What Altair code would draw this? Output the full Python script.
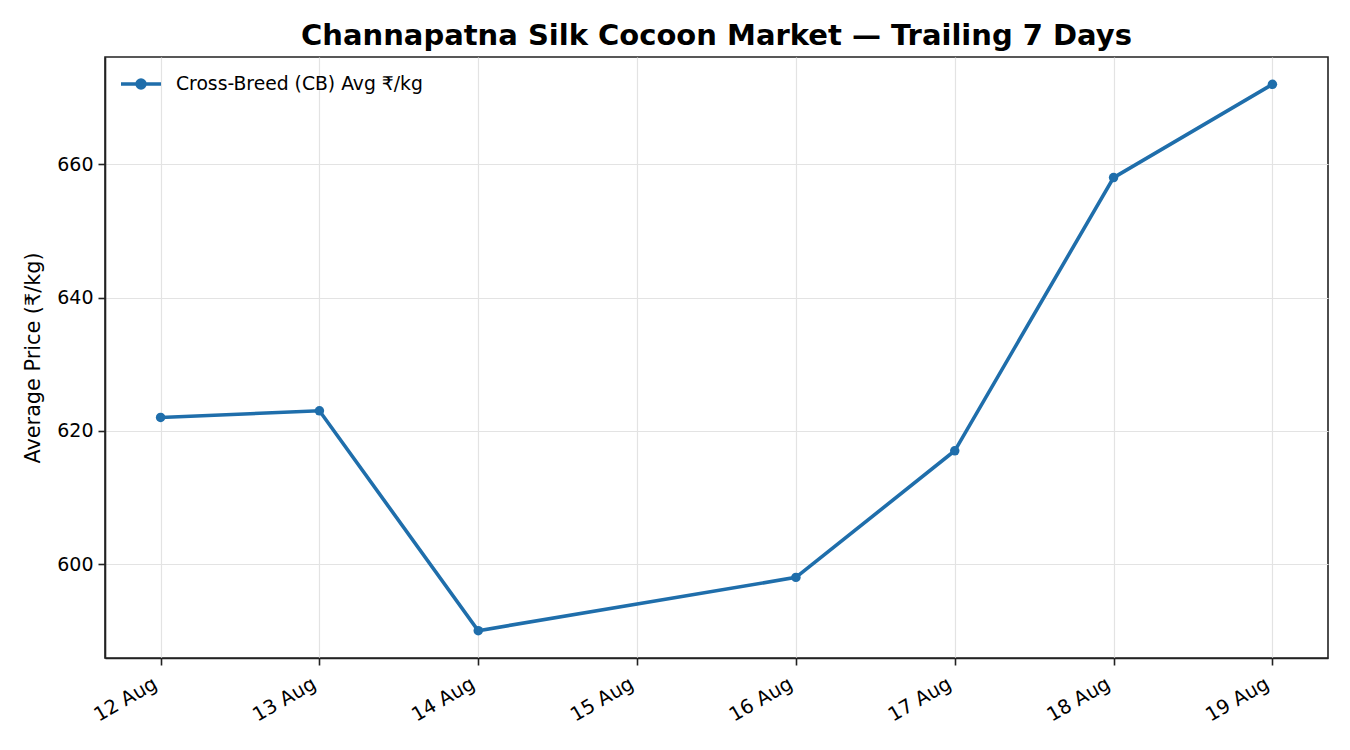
import altair as alt
import pandas as pd

dates = ["2024-08-12", "2024-08-13", "2024-08-14", "2024-08-16", "2024-08-17", "2024-08-18", "2024-08-19"]
prices = [622, 623, 590, 598, 617, 658, 672]
series_name = "Cross-Breed (CB) Avg ₹/kg"
tick_dates = ["2024-08-12", "2024-08-13", "2024-08-14", "2024-08-15", "2024-08-16", "2024-08-17", "2024-08-18", "2024-08-19"]
y_ticks = [600, 620, 640, 660]

df = pd.DataFrame({"date": dates, "price": prices, "series": [series_name] * len(dates)})

FONT = "DejaVu Sans"
BLUE = "#1f6eab"

def dt(s, h=0, m=0):
    y, mo, d = [int(v) for v in s.split("-")]
    return alt.DateTime(year=y, month=mo, date=d, hours=h, minutes=m, utc=True)

x = alt.X(
    "date:T",
    scale=alt.Scale(type="utc", domain=[dt("2024-08-11", 15, 36), dt("2024-08-19", 8, 24)]),
    axis=alt.Axis(
        title=None,
        values=[dt(s) for s in tick_dates],
        format="%d %b",
        labelAngle=330,
        labelAlign="right",
        labelBaseline="top",
        labelPadding=9,
        labelOffset=-10,
        labelFontSize=19.5,
        grid=True,
    ),
)
y = alt.Y(
    "price:Q",
    scale=alt.Scale(domain=[585.9, 676.1], nice=False, zero=False),
    axis=alt.Axis(title="Average Price (₹/kg)", values=y_ticks, labelFontSize=19, titleFontSize=20.8,
                  titleFontWeight="normal", titlePadding=13, labelPadding=5, grid=True),
)
color = alt.Color(
    "series:N",
    scale=alt.Scale(domain=[series_name], range=[BLUE]),
    legend=alt.Legend(
        title=None,
        orient="none",
        legendX=10,
        legendY=1,
        symbolType="M-1,0H1M-0.2,0A0.2,0.2,0,1,1,0.2,0A0.2,0.2,0,1,1,-0.2,0Z",
        symbolSize=1600,
        symbolStrokeWidth=3.4,
        symbolFillColor=BLUE,
        symbolStrokeColor=BLUE,
        labelFontSize=18.75,
        labelFont=FONT,
        labelColor="#000",
        labelOffset=13,
        labelLimit=1000,
        padding=4,
    ),
)

chart = (
    alt.Chart(df)
    .mark_line(strokeWidth=3.6, point=alt.OverlayMarkDef(filled=True, size=90, color=BLUE, opacity=1))
    .encode(x=x, y=y, color=color)
    .properties(
        width=1223,
        height=601,
        title=alt.Title("Channapatna Silk Cocoon Market — Trailing 7 Days", fontSize=29, font=FONT,
                        fontWeight="bold", color="#000", offset=6, anchor="middle"),
        autosize=alt.AutoSizeParams(type="none"),
        padding={"left": 97, "top": 49, "right": 10, "bottom": 80},
    )
    .configure_view(stroke="#222", strokeWidth=1.6)
    .configure_axis(
        labelFont=FONT, titleFont=FONT, labelColor="#000", titleColor="#000",
        domainColor="#222", domainWidth=1.6, tickColor="#222", tickSize=7, tickWidth=1.6,
        gridColor="#e3e3e3", gridWidth=1.2,
    )
)

chart.save("out.html", embed_options={"renderer": "svg", "actions": False})
